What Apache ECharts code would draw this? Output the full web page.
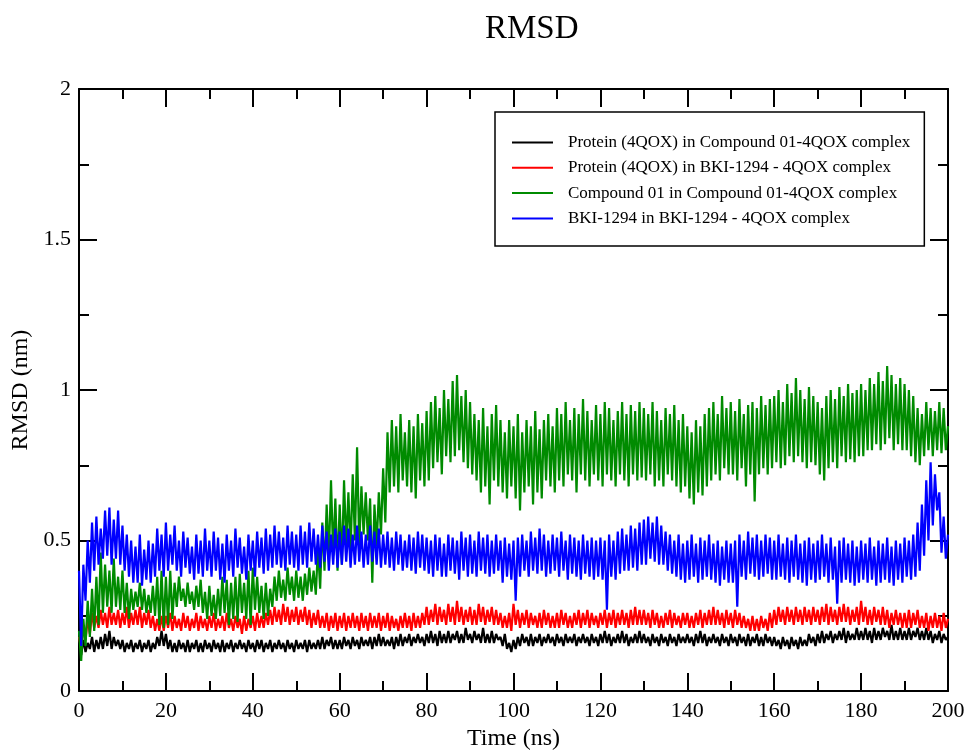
<!DOCTYPE html>
<html>
<head>
<meta charset="utf-8">
<title>RMSD</title>
<script src="https://cdn.jsdelivr.net/npm/echarts@6/dist/echarts.min.js"></script>
<style>
  html, body { margin: 0; padding: 0; background: #fff; }
  #chart { width: 970px; height: 756px; }
</style>
</head>
<body>
<div id="chart"></div>
<script>
// RMSD values (nm), one value every 0.5 ns from 0 to 200 ns
const TIME_STEP = 0.5;

const proteinCompound01 = [
  0.15,0.12,0.17,0.13,0.16,0.14,0.18,0.13,0.17,0.14,0.18,0.14,0.19,0.15,0.20,0.14,0.18,0.15,0.17,0.14,
  0.17,0.13,0.16,0.14,0.17,0.13,0.16,0.14,0.17,0.13,0.16,0.14,0.17,0.13,0.16,0.14,0.18,0.15,0.20,0.15,
  0.19,0.14,0.17,0.13,0.16,0.13,0.17,0.14,0.16,0.13,0.17,0.13,0.16,0.14,0.17,0.13,0.16,0.13,0.17,0.14,
  0.16,0.13,0.17,0.14,0.16,0.13,0.17,0.13,0.16,0.14,0.17,0.13,0.16,0.14,0.17,0.14,0.16,0.13,0.17,0.14,
  0.16,0.13,0.17,0.14,0.17,0.13,0.16,0.14,0.17,0.13,0.16,0.14,0.17,0.14,0.16,0.13,0.17,0.14,0.16,0.13,
  0.17,0.14,0.16,0.14,0.17,0.13,0.17,0.14,0.16,0.14,0.17,0.14,0.18,0.14,0.17,0.15,0.18,0.14,0.17,0.14,
  0.17,0.14,0.18,0.15,0.17,0.14,0.18,0.15,0.17,0.14,0.18,0.15,0.17,0.15,0.18,0.14,0.18,0.15,0.19,0.15,
  0.18,0.15,0.17,0.15,0.18,0.14,0.18,0.15,0.19,0.15,0.18,0.16,0.19,0.15,0.18,0.16,0.19,0.16,0.18,0.15,
  0.19,0.16,0.20,0.16,0.19,0.15,0.20,0.16,0.19,0.16,0.20,0.16,0.19,0.17,0.20,0.16,0.19,0.16,0.21,0.17,
  0.19,0.16,0.20,0.17,0.19,0.16,0.21,0.16,0.19,0.16,0.20,0.16,0.19,0.17,0.18,0.15,0.19,0.14,0.16,0.13,
  0.17,0.14,0.18,0.15,0.19,0.16,0.18,0.15,0.19,0.15,0.18,0.16,0.19,0.15,0.18,0.16,0.19,0.16,0.18,0.15,
  0.19,0.16,0.18,0.15,0.19,0.16,0.18,0.16,0.19,0.15,0.18,0.16,0.19,0.16,0.18,0.15,0.19,0.16,0.18,0.15,
  0.19,0.16,0.20,0.16,0.19,0.15,0.18,0.16,0.19,0.16,0.20,0.16,0.19,0.15,0.18,0.16,0.19,0.16,0.20,0.16,
  0.19,0.16,0.18,0.15,0.19,0.16,0.18,0.15,0.19,0.16,0.18,0.15,0.19,0.16,0.18,0.15,0.19,0.16,0.18,0.16,
  0.19,0.16,0.18,0.15,0.19,0.16,0.20,0.16,0.19,0.15,0.18,0.16,0.19,0.16,0.18,0.15,0.19,0.16,0.18,0.15,
  0.19,0.16,0.18,0.15,0.19,0.16,0.18,0.15,0.19,0.15,0.18,0.16,0.19,0.15,0.18,0.15,0.19,0.16,0.18,0.15,
  0.18,0.15,0.17,0.14,0.18,0.15,0.17,0.14,0.18,0.15,0.17,0.14,0.18,0.15,0.17,0.15,0.19,0.16,0.18,0.15,
  0.19,0.16,0.20,0.16,0.19,0.17,0.20,0.16,0.19,0.17,0.20,0.17,0.21,0.16,0.20,0.17,0.19,0.17,0.21,0.17,
  0.20,0.17,0.21,0.17,0.20,0.16,0.21,0.17,0.20,0.17,0.21,0.18,0.20,0.17,0.22,0.17,0.20,0.17,0.21,0.17,
  0.20,0.17,0.21,0.17,0.20,0.18,0.21,0.17,0.20,0.17,0.21,0.17,0.20,0.16,0.19,0.17,0.20,0.16,0.19,0.17,
  0.18
];

const proteinBki1294 = [
  0.18,0.14,0.22,0.17,0.24,0.19,0.26,0.21,0.25,0.21,0.27,0.22,0.26,0.21,0.28,0.22,0.26,0.22,0.27,0.21,
  0.26,0.22,0.28,0.21,0.26,0.22,0.27,0.22,0.28,0.21,0.26,0.22,0.27,0.21,0.25,0.20,0.24,0.20,0.25,0.20,
  0.25,0.21,0.26,0.20,0.25,0.21,0.24,0.20,0.26,0.21,0.25,0.20,0.24,0.21,0.26,0.20,0.25,0.21,0.24,0.20,
  0.25,0.21,0.26,0.20,0.24,0.21,0.25,0.20,0.26,0.21,0.24,0.20,0.25,0.21,0.24,0.19,0.25,0.20,0.24,0.21,
  0.25,0.20,0.26,0.21,0.25,0.21,0.26,0.22,0.27,0.22,0.28,0.23,0.27,0.22,0.29,0.23,0.28,0.22,0.27,0.23,
  0.28,0.22,0.27,0.23,0.28,0.22,0.27,0.21,0.26,0.22,0.27,0.21,0.25,0.21,0.26,0.20,0.25,0.21,0.26,0.20,
  0.25,0.21,0.26,0.20,0.25,0.21,0.26,0.21,0.25,0.20,0.26,0.21,0.25,0.20,0.26,0.21,0.25,0.21,0.26,0.20,
  0.25,0.21,0.26,0.20,0.25,0.21,0.24,0.20,0.25,0.21,0.26,0.21,0.25,0.20,0.26,0.21,0.25,0.21,0.26,0.22,
  0.28,0.22,0.27,0.23,0.29,0.22,0.28,0.23,0.27,0.22,0.29,0.23,0.28,0.22,0.30,0.23,0.28,0.22,0.27,0.23,
  0.28,0.22,0.27,0.22,0.29,0.23,0.28,0.22,0.27,0.23,0.28,0.22,0.27,0.22,0.26,0.21,0.25,0.21,0.26,0.20,
  0.29,0.22,0.27,0.21,0.26,0.22,0.27,0.21,0.26,0.22,0.25,0.21,0.26,0.21,0.27,0.22,0.26,0.21,0.25,0.21,
  0.26,0.21,0.27,0.22,0.26,0.21,0.25,0.21,0.26,0.22,0.27,0.21,0.26,0.22,0.27,0.21,0.26,0.22,0.25,0.21,
  0.26,0.22,0.27,0.21,0.26,0.22,0.27,0.21,0.26,0.22,0.27,0.22,0.26,0.21,0.27,0.22,0.28,0.22,0.27,0.22,
  0.27,0.22,0.26,0.21,0.27,0.22,0.26,0.21,0.25,0.21,0.26,0.22,0.27,0.21,0.26,0.22,0.25,0.21,0.26,0.22,
  0.26,0.21,0.25,0.21,0.26,0.22,0.27,0.21,0.26,0.22,0.27,0.22,0.28,0.22,0.27,0.22,0.26,0.21,0.27,0.22,
  0.26,0.21,0.27,0.22,0.26,0.21,0.25,0.21,0.24,0.20,0.25,0.20,0.24,0.20,0.25,0.21,0.24,0.20,0.26,0.21,
  0.27,0.22,0.28,0.23,0.27,0.22,0.28,0.23,0.27,0.22,0.28,0.23,0.27,0.22,0.28,0.23,0.27,0.22,0.28,0.23,
  0.27,0.22,0.28,0.23,0.29,0.22,0.28,0.23,0.27,0.22,0.28,0.23,0.29,0.23,0.28,0.22,0.27,0.23,0.28,0.22,
  0.30,0.23,0.28,0.22,0.27,0.22,0.28,0.23,0.27,0.22,0.28,0.22,0.27,0.21,0.26,0.22,0.27,0.22,0.26,0.21,
  0.26,0.21,0.27,0.21,0.26,0.22,0.27,0.21,0.25,0.21,0.26,0.20,0.25,0.21,0.26,0.21,0.25,0.20,0.26,0.21,
  0.24
];

const compound01 = [
  0.20,0.10,0.24,0.15,0.30,0.18,0.34,0.20,0.38,0.22,0.46,0.26,0.42,0.28,0.40,0.26,0.44,0.28,0.38,0.27,
  0.40,0.26,0.36,0.24,0.34,0.27,0.33,0.28,0.36,0.27,0.34,0.26,0.32,0.26,0.35,0.25,0.38,0.22,0.40,0.21,
  0.38,0.22,0.40,0.24,0.36,0.28,0.38,0.30,0.34,0.28,0.36,0.29,0.33,0.27,0.35,0.28,0.37,0.26,0.33,0.24,
  0.35,0.25,0.32,0.24,0.34,0.25,0.38,0.26,0.37,0.22,0.36,0.24,0.38,0.23,0.39,0.26,0.36,0.24,0.40,0.22,
  0.41,0.27,0.38,0.26,0.35,0.24,0.36,0.25,0.34,0.28,0.38,0.30,0.40,0.31,0.37,0.30,0.41,0.32,0.38,0.30,
  0.40,0.31,0.38,0.30,0.39,0.32,0.41,0.33,0.40,0.32,0.48,0.34,0.56,0.40,0.62,0.44,0.70,0.45,0.64,0.40,
  0.62,0.42,0.70,0.48,0.66,0.46,0.72,0.50,0.81,0.48,0.68,0.52,0.66,0.50,0.64,0.36,0.62,0.48,0.66,0.52,
  0.74,0.56,0.86,0.66,0.90,0.68,0.88,0.66,0.92,0.70,0.86,0.68,0.90,0.66,0.88,0.64,0.92,0.70,0.89,0.68,
  0.93,0.70,0.96,0.74,0.98,0.76,0.94,0.72,1.00,0.78,0.97,0.76,1.03,0.78,1.05,0.80,0.98,0.76,1.00,0.74,
  0.96,0.72,0.92,0.70,0.90,0.66,0.94,0.68,0.88,0.62,0.92,0.70,0.95,0.68,0.90,0.66,0.86,0.64,0.90,0.68,
  0.88,0.64,0.92,0.60,0.86,0.66,0.90,0.68,0.88,0.62,0.93,0.66,0.87,0.64,0.90,0.70,0.92,0.68,0.88,0.66,
  0.94,0.70,0.92,0.68,0.96,0.72,0.90,0.70,0.94,0.66,0.92,0.72,0.97,0.70,0.93,0.68,0.90,0.72,0.95,0.70,
  0.92,0.68,0.96,0.72,0.94,0.70,0.90,0.68,0.93,0.72,0.96,0.70,0.92,0.68,0.95,0.72,0.93,0.70,0.96,0.71,
  0.94,0.70,0.92,0.72,0.96,0.68,0.93,0.70,0.90,0.68,0.94,0.72,0.92,0.70,0.95,0.68,0.90,0.66,0.92,0.68,
  0.88,0.64,0.86,0.62,0.90,0.66,0.88,0.65,0.92,0.68,0.94,0.70,0.96,0.72,0.92,0.70,0.98,0.74,0.94,0.72,
  0.96,0.72,0.93,0.70,0.97,0.74,0.92,0.68,0.95,0.72,0.96,0.63,0.94,0.72,0.98,0.74,0.95,0.72,0.97,0.74,
  0.98,0.76,1.00,0.74,0.96,0.75,1.02,0.78,0.99,0.76,1.04,0.78,1.00,0.76,0.97,0.74,1.01,0.76,0.98,0.75,
  0.96,0.72,0.94,0.70,0.98,0.74,1.00,0.76,0.97,0.74,1.01,0.78,0.98,0.76,1.02,0.77,0.99,0.76,1.00,0.78,
  1.02,0.78,1.00,0.80,1.04,0.80,1.02,0.82,1.06,0.80,1.03,0.82,1.08,0.84,1.05,0.80,1.02,0.82,1.04,0.80,
  1.02,0.80,1.00,0.78,0.98,0.76,0.94,0.75,0.92,0.78,0.96,0.80,0.94,0.78,0.93,0.80,0.96,0.79,0.94,0.80,
  0.88
];

const bki1294 = [
  0.40,0.15,0.42,0.30,0.50,0.36,0.56,0.40,0.58,0.42,0.54,0.44,0.60,0.45,0.61,0.42,0.57,0.44,0.60,0.42,
  0.55,0.40,0.52,0.38,0.50,0.36,0.48,0.36,0.52,0.35,0.47,0.37,0.50,0.36,0.49,0.38,0.54,0.40,0.52,0.38,
  0.56,0.40,0.52,0.42,0.55,0.40,0.50,0.38,0.53,0.41,0.51,0.39,0.48,0.37,0.52,0.39,0.50,0.38,0.54,0.40,
  0.50,0.38,0.53,0.40,0.51,0.37,0.49,0.36,0.52,0.40,0.50,0.38,0.54,0.41,0.51,0.39,0.48,0.37,0.52,0.40,
  0.50,0.38,0.53,0.41,0.51,0.39,0.54,0.40,0.52,0.41,0.55,0.42,0.53,0.41,0.51,0.40,0.55,0.42,0.53,0.41,
  0.52,0.40,0.55,0.42,0.53,0.41,0.56,0.43,0.54,0.42,0.52,0.41,0.55,0.43,0.53,0.40,0.52,0.42,0.54,0.41,
  0.53,0.42,0.55,0.43,0.54,0.41,0.52,0.42,0.55,0.43,0.53,0.41,0.52,0.42,0.55,0.43,0.53,0.42,0.54,0.41,
  0.52,0.42,0.53,0.41,0.51,0.40,0.53,0.42,0.52,0.40,0.50,0.41,0.52,0.40,0.51,0.39,0.53,0.41,0.52,0.40,
  0.51,0.39,0.50,0.38,0.52,0.40,0.51,0.38,0.49,0.38,0.52,0.40,0.51,0.39,0.50,0.37,0.53,0.40,0.51,0.38,
  0.52,0.39,0.50,0.38,0.53,0.40,0.51,0.39,0.52,0.38,0.50,0.39,0.52,0.40,0.50,0.36,0.51,0.38,0.49,0.37,
  0.50,0.30,0.51,0.38,0.52,0.40,0.50,0.38,0.53,0.40,0.51,0.39,0.54,0.40,0.52,0.38,0.50,0.39,0.52,0.40,
  0.51,0.38,0.53,0.40,0.50,0.37,0.52,0.39,0.51,0.38,0.50,0.37,0.52,0.39,0.50,0.38,0.51,0.37,0.50,0.38,
  0.51,0.37,0.50,0.27,0.52,0.38,0.50,0.37,0.53,0.39,0.54,0.40,0.52,0.40,0.55,0.41,0.54,0.40,0.56,0.42,
  0.57,0.42,0.58,0.44,0.56,0.43,0.58,0.42,0.55,0.42,0.53,0.40,0.52,0.39,0.50,0.38,0.52,0.37,0.49,0.36,
  0.50,0.37,0.52,0.38,0.49,0.36,0.51,0.37,0.50,0.38,0.52,0.37,0.49,0.36,0.50,0.35,0.48,0.37,0.50,0.36,
  0.49,0.36,0.50,0.28,0.52,0.38,0.50,0.37,0.53,0.39,0.51,0.38,0.52,0.37,0.50,0.38,0.52,0.39,0.51,0.37,
  0.50,0.37,0.52,0.38,0.49,0.37,0.51,0.36,0.50,0.38,0.52,0.37,0.49,0.36,0.50,0.35,0.51,0.37,0.49,0.36,
  0.50,0.37,0.52,0.38,0.49,0.36,0.51,0.37,0.48,0.29,0.50,0.36,0.51,0.37,0.49,0.36,0.50,0.35,0.48,0.36,
  0.50,0.37,0.49,0.36,0.51,0.37,0.48,0.35,0.50,0.36,0.49,0.37,0.51,0.36,0.48,0.35,0.50,0.37,0.49,0.36,
  0.51,0.38,0.50,0.37,0.52,0.38,0.56,0.40,0.62,0.45,0.70,0.50,0.76,0.55,0.72,0.60,0.66,0.46,0.58,0.44,
  0.52
];

const seriesNames = [
  'Protein (4QOX) in Compound 01-4QOX complex',
  'Protein (4QOX) in BKI-1294 - 4QOX complex',
  'Compound 01 in Compound 01-4QOX complex',
  'BKI-1294 in BKI-1294 - 4QOX complex'
];
const seriesValues = [proteinCompound01, proteinBki1294, compound01, bki1294];
const seriesColors = ['#000000', '#ff0000', '#008b00', '#0000ff'];

const xTicks = { min: 0, max: 200, interval: 20 };
const yTicks = { min: 0, max: 2, interval: 0.5 };

const FONT = '"Liberation Serif", "DejaVu Serif", serif';

function toPairs(values) {
  return values.map((v, i) => [i * TIME_STEP, v]);
}

function frameAxis(extra) {
  return Object.assign({
    type: 'value',
    axisLine: { show: true, onZero: false, lineStyle: { color: '#000', width: 2 } },
    axisTick: { show: true, inside: true, length: 18, lineStyle: { color: '#000', width: 2 } },
    minorTick: { show: true, splitNumber: 2, length: 10, lineStyle: { color: '#000', width: 2 } },
    splitLine: { show: false },
    minorSplitLine: { show: false }
  }, extra);
}

const chart = echarts.init(document.getElementById('chart'), null, { renderer: 'canvas' });

chart.setOption({
  animation: false,
  backgroundColor: '#fff',
  title: {
    text: 'RMSD',
    left: 480,
    top: 8,
    textStyle: { fontFamily: FONT, fontSize: 33, fontWeight: 'normal', color: '#000' }
  },
  grid: { left: 79, right: 22, top: 89, bottom: 58, containLabel: false },
  legend: {
    orient: 'vertical',
    left: 495,
    top: 112,
    padding: [22, 14, 19, 17],
    itemGap: 8.3,
    itemWidth: 41,
    itemHeight: 2,
    borderColor: '#000',
    borderWidth: 1.5,
    backgroundColor: '#fff',
    selectedMode: false,
    textStyle: { fontFamily: FONT, fontSize: 17, color: '#000', lineHeight: 17, padding: [0, 0, 0, 10] },
    data: seriesNames.map((name) => ({ name: name, icon: 'rect' }))
  },
  xAxis: [
    frameAxis(Object.assign({}, xTicks, {
      position: 'bottom',
      name: 'Time (ns)',
      nameLocation: 'middle',
      nameGap: 32,
      nameTextStyle: { fontFamily: FONT, fontSize: 24, color: '#000' },
      axisLabel: { fontFamily: FONT, fontSize: 22, color: '#000', margin: 9 }
    })),
    frameAxis(Object.assign({}, xTicks, {
      position: 'top',
      axisLabel: { show: false }
    }))
  ],
  yAxis: [
    frameAxis(Object.assign({}, yTicks, {
      position: 'left',
      name: 'RMSD (nm)',
      nameLocation: 'middle',
      nameGap: 36,
      nameTextStyle: { fontFamily: FONT, fontSize: 24, color: '#000' },
      axisLabel: { fontFamily: FONT, fontSize: 22, color: '#000', margin: 8 }
    })),
    frameAxis(Object.assign({}, yTicks, {
      position: 'right',
      axisLabel: { show: false }
    }))
  ],
  series: seriesNames.map((name, k) => ({
    name: name,
    type: 'line',
    xAxisIndex: 0,
    yAxisIndex: 0,
    symbol: 'none',
    showSymbol: false,
    color: seriesColors[k],
    lineStyle: { width: 2.2, color: seriesColors[k] },
    z: 2 + k,
    data: toPairs(seriesValues[k])
  }))
});
</script>
</body>
</html>
